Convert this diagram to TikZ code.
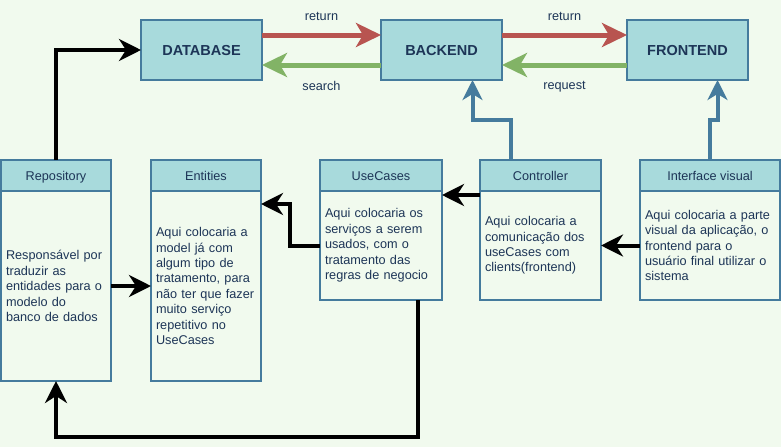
\documentclass[tikz,border=0pt]{standalone}
\usepackage{fontspec}
\setmainfont{Liberation Sans}
\usetikzlibrary{arrows.meta,positioning}
\definecolor{bgc}{HTML}{F1FAEE}
\definecolor{boxfill}{HTML}{A8DADC}
\definecolor{boxline}{HTML}{457B9D}
\definecolor{ink}{HTML}{1D3557}
\definecolor{retred}{HTML}{B85450}
\definecolor{reqgreen}{HTML}{82B366}

\begin{document}
\begin{tikzpicture}[x=1pt,y=-1pt,>={Stealth[length=22pt,width=22pt,inset=7pt]},
    topbox/.style={draw=boxline,fill=boxfill,line width=2pt,text=ink,font=\fontsize{14.5}{17}\selectfont\bfseries,
      minimum width=121pt,minimum height=60pt,outer sep=0pt,text height=11.5pt,text depth=0pt},
    lanehead/.style={draw=boxline,fill=boxfill,line width=2pt,text=ink,font=\fontsize{12.7}{15}\selectfont,
      minimum height=31pt,outer sep=0pt,anchor=north west,text height=12.5pt,text depth=2.5pt},
    lanebody/.style={draw=boxline,line width=2pt,text=ink,font=\fontsize{12.7}{15.4}\selectfont,align=left,
      inner xsep=5pt,outer sep=0pt},
    lbl/.style={text=ink,font=\fontsize{12.7}{15}\selectfont},
    flow/.style={->,line width=4pt},
    link/.style={->,line width=4pt,draw=boxline,>={Stealth[length=20pt,width=20pt,inset=6pt]}},
    wide/.style={->,line width=5pt,>={Stealth[length=25pt,width=24pt,inset=7pt]}}]
  %\tikzstyle{every node}=[draw=red]
  \fill[bgc] (0,0) rectangle (781,447);
  \useasboundingbox (0,0) rectangle (781,447);

  \node[topbox] (db) at (201.5,50) {DATABASE};
  \node[topbox] (be) at (441.5,50) {BACKEND};
  \node[topbox] (fe) at (687.5,50) {FRONTEND};

  \node[lanehead,minimum width=110pt] (repoH) at (1,160) {Repository};
  \node[lanebody,below=0pt of repoH,text width=100pt,minimum height=190pt] (repo)
    {Responsável por\\traduzir as\\entidades para o\\modelo do\\banco de dados};
  \node[lanehead,minimum width=110pt] (entH) at (151,160) {Entities};
  \node[lanebody,below=0pt of entH,text width=100pt,minimum height=190pt] (ent)
    {Aqui colocaria a\\model já com\\algum tipo de\\tratamento, para\\não ter que fazer\\muito serviço\\repetitivo no\\UseCases};
  \node[lanehead,minimum width=122pt] (ucH) at (320,160) {UseCases};
  \node[lanebody,below=0pt of ucH,text width=112pt,minimum height=109pt] (uc)
    {Aqui colocaria os\\serviços a serem\\usados, com o\\tratamento das\\regras de negocio};
  \node[lanehead,minimum width=121pt] (ctrlH) at (480,160) {Controller};
  \node[lanebody,below=0pt of ctrlH,text width=111pt,minimum height=109pt] (ctrl)
    {Aqui colocaria a\\comunicação dos\\useCases com\\clients(frontend)};
  \node[lanehead,minimum width=140pt] (ivH) at (640,160) {Interface visual};
  \node[lanebody,below=0pt of ivH,text width=130pt,minimum height=109pt] (iv)
    {Aqui colocaria a parte\\visual da aplicação, o\\frontend para o\\usuário final utilizar o\\sistema};

  \draw[wide,retred] ([yshift=15pt]db.east) -- node[lbl,above=9pt] (ret1) {return} ([yshift=15pt]be.west);
  \draw[wide,reqgreen] ([yshift=-15pt]be.west) -- node[lbl,below=10pt] (srch) {search} ([yshift=-15pt]db.east);
  \draw[wide,retred] ([yshift=15pt]be.east) -- node[lbl,above=9pt] (ret2) {return} ([yshift=15pt]fe.west);
  \draw[wide,reqgreen] ([yshift=-15pt]fe.west) -- node[lbl,below=10pt] (req) {request} ([yshift=-15pt]be.east);

  \draw[flow] (repoH.north) |- (db.west);
  \draw[flow] (repo.east) -- (ent.west);
  \draw[flow] (uc.west) -- ++(-30,0) |- ([yshift=-13pt]ent.north east);
  \draw[flow] ([xshift=-24pt]uc.south east) -- ++(0,137) -| (repo.south);
  \draw[flow] ([yshift=-4pt]ctrl.north west) -- ([yshift=-4pt]uc.north east);
  \draw[flow] (iv.west) -- (ctrl.east);
  \draw[link] ([xshift=-30pt]ctrlH.north) -- ++(0,-40) -| ([xshift=31pt]be.south);
  \draw[link] (ivH.north) -- ++(0,-40) -| ([xshift=30pt]fe.south);
\end{tikzpicture}
\end{document}
